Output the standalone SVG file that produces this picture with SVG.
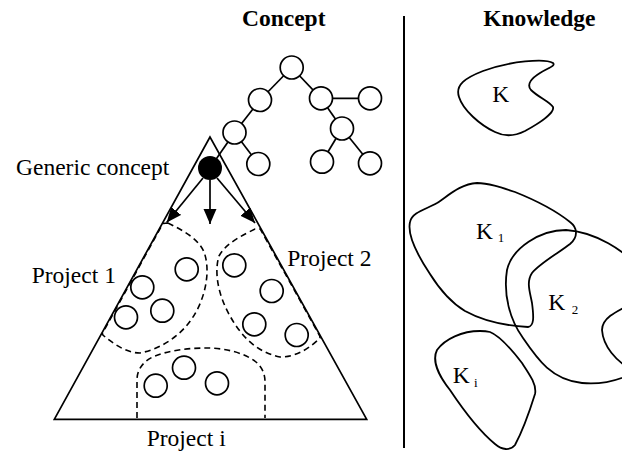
<svg xmlns="http://www.w3.org/2000/svg" width="622" height="452" viewBox="0 0 622 452">
<style>
text{font-family:"Liberation Serif","Times New Roman",serif;fill:#000}
.t{font-size:23.5px}
.h{font-size:23.5px;font-weight:bold;text-anchor:middle}
.sub{font-size:13px}
.ln{stroke:#000;stroke-width:1.7;fill:none}
.c{stroke:#000;stroke-width:1.7;fill:#fff}
.d{stroke:#000;stroke-width:1.6;fill:none;stroke-dasharray:6 4}
.k{stroke:#000;stroke-width:1.8;fill:none}
</style>
<defs>
<marker id="ah" markerUnits="userSpaceOnUse" markerWidth="16" markerHeight="14" refX="15" refY="6.5" orient="auto">
<path d="M0,0 L15,6.5 L0,13 Z" fill="#000"/>
</marker>
</defs>
<g id="titles">
<text class="h" x="283.7" y="26">Concept</text>
<text class="h" x="539.3" y="26">Knowledge</text>
</g>
<line id="divider" x1="404" y1="16" x2="404" y2="448" stroke="#000" stroke-width="2"/>
<g id="connectors">
<line class="ln" x1="291.7" y1="67.5" x2="260" y2="100"/>
<line class="ln" x1="291.7" y1="67.5" x2="321" y2="98.3"/>
<line class="ln" x1="260" y1="100" x2="234.5" y2="132.5"/>
<line class="ln" x1="234.5" y1="132.5" x2="258.3" y2="164"/>
<line class="ln" x1="234.5" y1="132.5" x2="210" y2="168"/>
<line class="ln" x1="321" y1="98.3" x2="370" y2="98.3"/>
<line class="ln" x1="321" y1="98.3" x2="342" y2="128.5"/>
<line class="ln" x1="342" y1="128.5" x2="322" y2="161.7"/>
<line class="ln" x1="342" y1="128.5" x2="370" y2="163.3"/>
<line class="ln" x1="203" y1="178" x2="166.7" y2="222.5" marker-end="url(#ah)"/>
<line class="ln" x1="210" y1="180" x2="210" y2="224" marker-end="url(#ah)"/>
<line class="ln" x1="217" y1="178" x2="255" y2="223" marker-end="url(#ah)"/>
</g>
<g id="tree">
<circle class="c" cx="291.7" cy="67.5" r="11.5"/>
<circle class="c" cx="260" cy="100" r="11.5"/>
<circle class="c" cx="321" cy="98.3" r="11.5"/>
<circle class="c" cx="370" cy="98.3" r="11.5"/>
<circle class="c" cx="234.5" cy="132.5" r="11.5"/>
<circle class="c" cx="342" cy="128.5" r="11.5"/>
<circle class="c" cx="258.3" cy="164" r="11.5"/>
<circle class="c" cx="322" cy="161.7" r="11.5"/>
<circle class="c" cx="370" cy="163.3" r="11.5"/>
</g>
<g id="project-1">
<path class="d" d="M168 223 C182 230,198 238,204 252 C210 268,207 292,196 312 C185 332,165 348,140 353 C127 353,115 345,104 336 L102 334 L163 223.5 Z"/>
<circle class="c" cx="186.7" cy="269.3" r="11.5"/>
<circle class="c" cx="142.3" cy="287.3" r="11.5"/>
<circle class="c" cx="126" cy="317.3" r="11.5"/>
<circle class="c" cx="162.3" cy="310.7" r="11.5"/>
<text class="t" x="31.7" y="282.7">Project 1</text>
</g>
<g id="project-2">
<path class="d" d="M255 229 C243 235,226 243,219 256 C214 272,218 295,230 316 C240 334,255 352,280 357 C298 357,312 346,320 338 L319.8 336 L260.3 229 Z"/>
<circle class="c" cx="234.3" cy="265.3" r="11.5"/>
<circle class="c" cx="271.7" cy="291" r="11.5"/>
<circle class="c" cx="254.3" cy="324.3" r="11.5"/>
<circle class="c" cx="296.7" cy="335" r="11.5"/>
<text class="t" x="287.3" y="265.7">Project 2</text>
</g>
<g id="project-i">
<path class="d" d="M137 418 L137 380 C137 368,145 360,155 356 C170 350,190 348,207 348 C225 348,245 353,256 362 C263 368,265 375,265 382 L265 418"/>
<circle class="c" cx="184" cy="367.7" r="11.5"/>
<circle class="c" cx="155.7" cy="385.7" r="11.5"/>
<circle class="c" cx="217" cy="383.3" r="11.5"/>
<text class="t" x="146.7" y="446">Project i</text>
</g>
<g id="triangle">
<path class="ln" d="M210 137 L54.3 419.3 L366.7 419.3 Z"/>
</g>
<g id="generic-concept">
<circle cx="210" cy="168" r="12" fill="#000"/>
<text class="t" x="16" y="175">Generic concept</text>
</g>
<g id="knowledge-K">
<path class="k" d="M553 63 C545 58,510 61,483 71 C465 78,455 85,459 97 C463 110,480 125,495 132 C505 137,515 136,525 131 C538 124,555 113,553 107 C550 102,538 97,531 90 C526 84,532 78,540 73 C548 68,556 66,553 63 Z"/>
<text class="t" x="492.3" y="102">K</text>
</g>
<g id="knowledge-K1">
<path class="k" d="M477 183 C460 184,448 196,437 203 C427 209,412 212,410 222 C407 235,418 256,430 274 C440 290,450 302,465 311 C485 322,510 326,528 327 C534 326,534 318,532 303 C530 292,526 282,532 273 C540 263,560 252,570 244 C578 237,578 228,570 222 C555 210,535 200,515 192 C500 187,488 183,477 183 Z"/>
<text class="t" x="476" y="238.5">K<tspan class="sub" x="497.7" dy="3.5">1</tspan></text>
</g>
<g id="knowledge-K2">
<path class="k" d="M566 230 C540 230,512 248,507 270 C503 295,510 320,523 338 C538 360,552 380,582 383 C602 385,620 380,635 372 L635 371 C615 362,603 345,602 330 C602 318,615 312,635 302 L640 270 C625 250,595 232,566 230 Z"/>
<text class="t" x="548.3" y="310">K<tspan class="sub" x="571.7" dy="3.5">2</tspan></text>
</g>
<g id="knowledge-Ki">
<path class="k" d="M480 331 C462 331,445 339,437 350 C432 360,438 375,450 390 C462 408,478 430,495 444 C502 450,510 451,515 445 C522 432,530 410,535 394 C537 385,530 375,522 363 C512 350,500 336,490 332 C486 331,483 331,480 331 Z"/>
<text class="t" x="452.7" y="383">K<tspan class="sub" x="474" dy="4">i</tspan></text>
</g>
</svg>
